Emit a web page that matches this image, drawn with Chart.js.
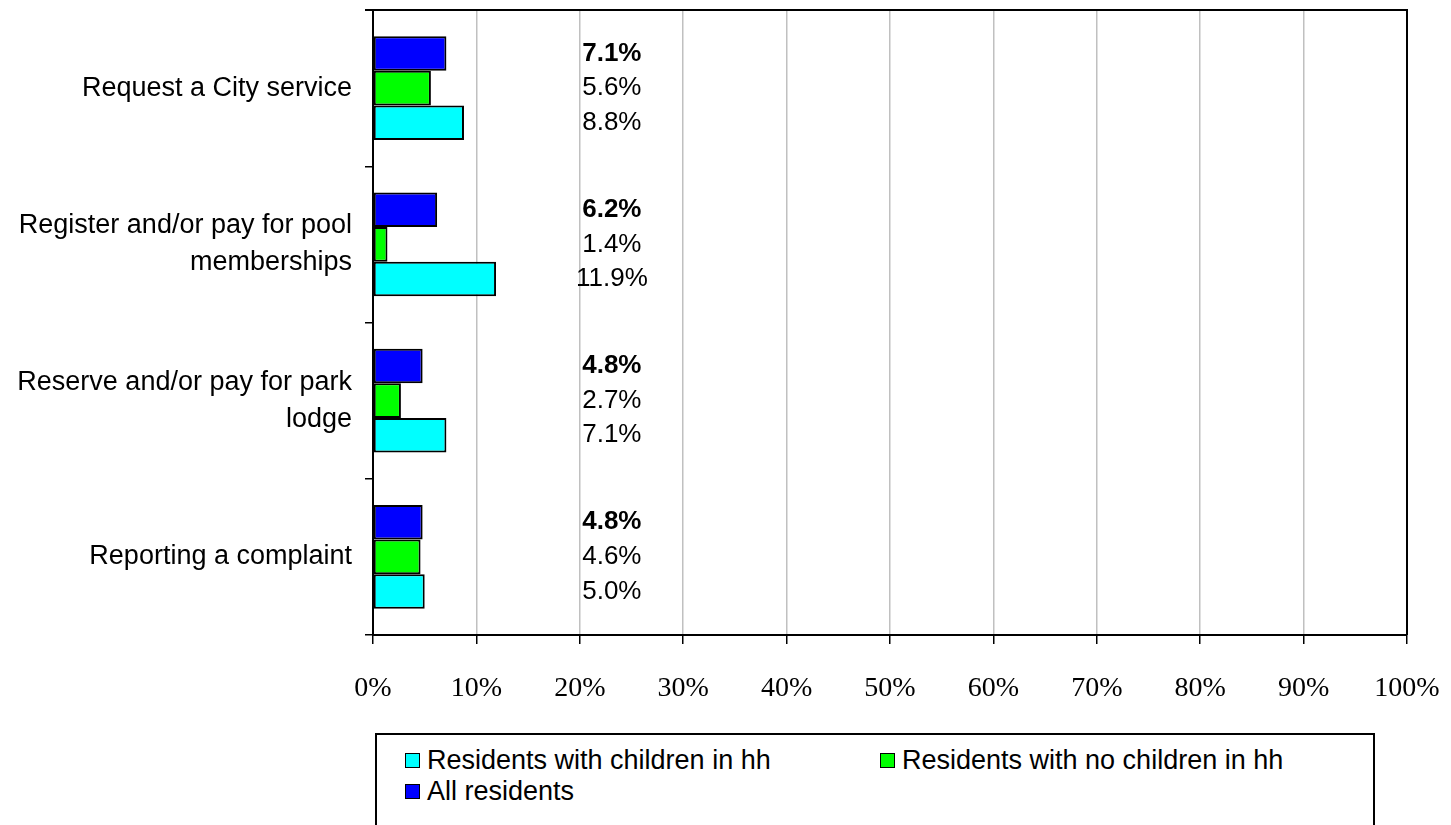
<!DOCTYPE html>
<html>
<head>
<meta charset="utf-8">
<script src="https://cdn.jsdelivr.net/npm/chart.js@4.4.1/dist/chart.umd.min.js"></script>
<style>
  html, body { margin: 0; padding: 0; background: #fff; overflow: hidden; }
  #wrap { position: relative; width: 1451px; height: 825px; }
  #legend {
    position: absolute; left: 375px; top: 733px; width: 1000px; height: 110px;
    border: 2px solid #000; box-sizing: border-box; background: #fff;
    font-family: "Liberation Sans", Arial, sans-serif; font-size: 27px; color: #000;
    display: grid; grid-template-columns: 475px 475px; grid-auto-rows: 31px;
    padding: 10px 0 0 28px;
  }
  .item { display: flex; align-items: center; white-space: nowrap; }
  .swatch { width: 13px; height: 13px; border: 1.5px solid #000; margin-right: 7px; }
</style>
</head>
<body>
<div id="wrap">
  <canvas id="chart" width="1451" height="825"></canvas>
  <div id="legend"></div>
</div>
<script>
const categories = [
  'Request a City service',
  ['Register and/or pay for pool', 'memberships'],
  ['Reserve and/or pay for park', 'lodge'],
  'Reporting a complaint'
];
const allResidents = [7.1, 6.2, 4.8, 4.8];
const noChildren = [5.6, 1.4, 2.7, 4.6];
const withChildren = [8.8, 11.9, 7.1, 5.0];
const xTicks = [0, 10, 20, 30, 40, 50, 60, 70, 80, 90, 100];

// value labels sit in a column at this x value
const LABEL_X = 23.1;

const valueLabels = {
  id: 'valueLabels',
  afterDatasetsDraw(chart) {
    const ctx = chart.ctx;
    const xs = chart.scales.x;
    ctx.save();
    ctx.fillStyle = '#000';
    ctx.textAlign = 'center';
    ctx.textBaseline = 'middle';
    chart.data.datasets.forEach((ds, i) => {
      const meta = chart.getDatasetMeta(i);
      ctx.font = (ds.boldLabel ? 'bold ' : '') + '26px "Liberation Sans", Arial, sans-serif';
      meta.data.forEach((bar, j) => {
        ctx.fillText(ds.data[j].toFixed(1) + '%', xs.getPixelForValue(LABEL_X), bar.y);
      });
    });
    ctx.restore();
  }
};

// top and right edges of the plot box
const plotFrame = {
  id: 'plotFrame',
  afterDraw(chart) {
    const a = chart.chartArea;
    const ctx = chart.ctx;
    ctx.save();
    ctx.strokeStyle = '#000';
    ctx.lineWidth = 2;
    ctx.beginPath();
    ctx.moveTo(a.left - 8, a.top);
    ctx.lineTo(a.right, a.top);
    ctx.lineTo(a.right, a.bottom);
    ctx.stroke();
    ctx.restore();
  }
};

const chart = new Chart(document.getElementById('chart'), {
  type: 'bar',
  data: {
    labels: categories,
    datasets: [
      { label: 'All residents', data: allResidents, backgroundColor: '#0000ff', boldLabel: true },
      { label: 'Residents with no children in hh', data: noChildren, backgroundColor: '#00ff00' },
      { label: 'Residents with children in hh', data: withChildren, backgroundColor: '#00ffff' }
    ]
  },
  options: {
    indexAxis: 'y',
    responsive: false,
    animation: false,
    devicePixelRatio: 1,
    layout: { padding: { top: 10, right: 44, left: 0, bottom: 0 } },
    datasets: {
      bar: {
        borderColor: '#000',
        borderWidth: 2,
        borderSkipped: false,
        categoryPercentage: 0.665,
        barPercentage: 1.0
      }
    },
    plugins: {
      legend: { display: false },
      tooltip: { enabled: false }
    },
    scales: {
      x: {
        min: 0,
        max: 100,
        afterBuildTicks: (s) => { s.ticks = xTicks.map(v => ({ value: v })); },
        afterFit: (s) => { s.height = 190; s.paddingLeft = 0; s.paddingRight = 0; },
        ticks: {
          callback: (v) => v + '%',
          color: '#000',
          font: { family: '"Liberation Serif", "Times New Roman", serif', size: 28 },
          padding: 28,
          maxRotation: 0
        },
        grid: {
          color: (c) => (c.tick && c.tick.value > 0 && c.tick.value < 100) ? '#c0c0c0' : 'rgba(0,0,0,0)',
          tickColor: '#000',
          tickLength: 9,
          lineWidth: 1.5
        },
        border: { display: true, color: '#000', width: 2 }
      },
      y: {
        afterFit: (s) => { s.width = 373; s.paddingTop = 0; s.paddingBottom = 0; },
        ticks: {
          color: '#000',
          crossAlign: 'near',
          padding: 13,
          font: { family: '"Liberation Sans", Arial, sans-serif', size: 27, lineHeight: 1.37 }
        },
        grid: {
          offset: true,
          drawOnChartArea: false,
          tickColor: '#000',
          tickLength: 8,
          lineWidth: 1.5
        },
        border: { display: true, color: '#000', width: 2 }
      }
    }
  },
  plugins: [valueLabels, plotFrame]
});

// legend lists the series bottom-up, as they are stacked in each group
const legendEl = document.getElementById('legend');
chart.data.datasets.slice().reverse().forEach(ds => {
  const item = document.createElement('div');
  item.className = 'item';
  const sw = document.createElement('span');
  sw.className = 'swatch';
  sw.style.background = ds.backgroundColor;
  item.appendChild(sw);
  item.appendChild(document.createTextNode(ds.label));
  legendEl.appendChild(item);
});
</script>
</body>
</html>
